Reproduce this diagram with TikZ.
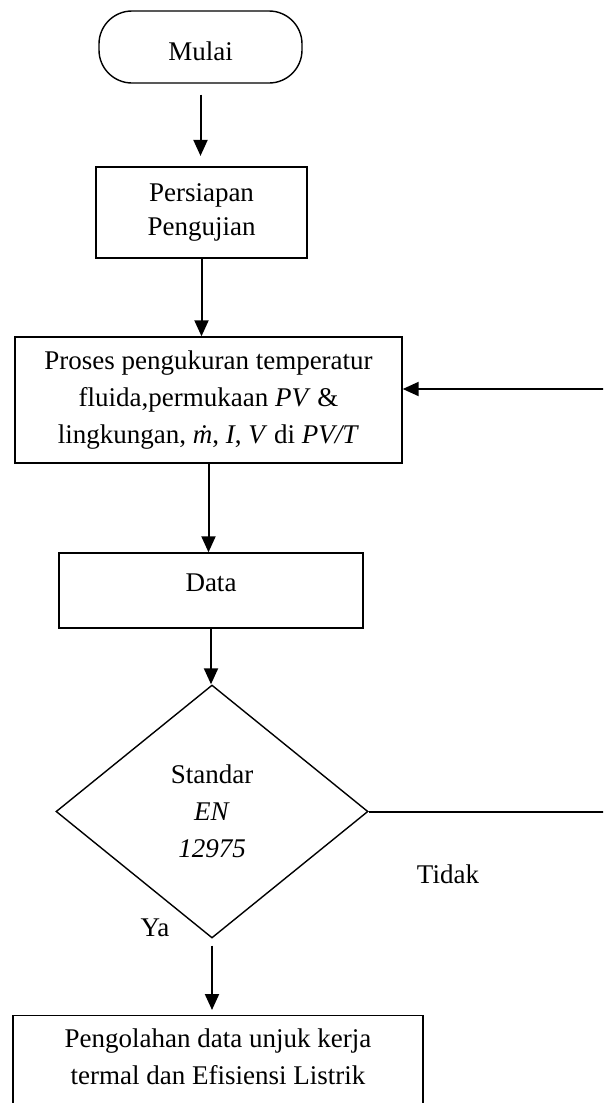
\documentclass[tikz,border=0pt]{standalone}
\usepackage{fontspec}
\setmainfont{Liberation Serif}
\usetikzlibrary{shapes.geometric,arrows.meta}

\begin{document}
\begin{tikzpicture}[x=1pt,y=-1pt,
  box/.style={draw,line width=1.4pt,inner sep=0pt,align=center,font=\fontsize{27}{37}\selectfont},
  lbl/.style={inner sep=0pt,font=\fontsize{27}{37}\selectfont},
  flow/.style={line width=2pt,-{Triangle[length=16pt,width=14pt]}}]
  \clip (0,0) rectangle (603,1103);
  \node[box,rounded corners=33pt,minimum width=203pt,minimum height=72pt,text height=28pt] (mulai) at (200.5,47) {Mulai};
  \node[box,line width=2.2pt,minimum width=211pt,minimum height=91pt] (siap) at (201.5,212.5) {Persiapan\\[-3pt]Pengujian};
  \node[box,minimum width=387pt,minimum height=126pt] (proses) at (208.5,400) {Proses pengukuran temperatur\\fluida,permukaan \textit{PV} \&\\lingkungan, \textit{ṁ}, \textit{I}, \textit{V} di \textit{PV/T}};
  \node[box,minimum width=304pt,minimum height=75pt,text depth=16pt] (data) at (211,590.5) {Data};
  \node[box,diamond,minimum width=312pt,minimum height=253pt] (std) at (212,811.5) {Standar\\\textit{EN}\\\textit{12975}};
  \node[box,anchor=north,minimum width=410pt,inner ysep=13pt,text depth=30pt] (olah) at (218,1015) {Pengolahan data unjuk kerja\\termal dan Efisiensi Listrik};
  \node[lbl] (tidak) at (448,874) {Tidak};
  \node[lbl] (ya) at (155,928) {Ya};
  \coordinate (balik) at (612,811.5);
  % alur utama
  \draw[flow,shorten <=11pt,shorten >=10pt] (mulai.south) -- (mulai.south |- siap.north);
  \draw[flow] (siap.south) -- (siap.south |- proses.north);
  \draw[flow] (proses.south) -- (proses.south |- data.north);
  \draw[flow] (data.south) -- (data.south |- std.north);
  \draw[flow,shorten <=7pt,shorten >=5pt] (std.south) -- (std.south |- olah.north);
  % kembali jika tidak
  \draw[flow] (std.east) -- (balik) |- ([yshift=11pt]proses.east);
\end{tikzpicture}
\end{document}
